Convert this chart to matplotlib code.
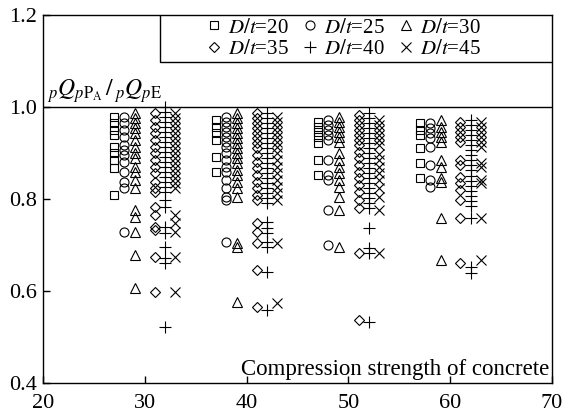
import matplotlib
matplotlib.use('Agg')
import matplotlib.pyplot as plt
from matplotlib.patches import Rectangle

plt.rcParams['font.family'] = ['Liberation Serif', 'DejaVu Serif']
plt.rcParams['mathtext.fontset'] = 'stix'

# concrete strength groups (MPa)
strength = [30, 40, 50, 60]
dt_values = [20, 25, 30, 35, 40, 45]

# pQpPA / pQpE ratios, one list per strength group
ratio_dt20 = [
    [0.978, 0.965, 0.95, 0.939, 0.913, 0.90, 0.885, 0.867, 0.809],
    [0.972, 0.957, 0.943, 0.928, 0.891, 0.859],
    [0.967, 0.957, 0.946, 0.935, 0.922, 0.885, 0.852],
    [0.965, 0.95, 0.939, 0.911, 0.878, 0.846],
]
ratio_dt25 = [
    [0.978, 0.965, 0.95, 0.935, 0.917, 0.906, 0.896, 0.88, 0.859, 0.837, 0.824, 0.728],
    [0.978, 0.967, 0.957, 0.946, 0.935, 0.924, 0.913, 0.90, 0.885, 0.87, 0.859, 0.841,
     0.824, 0.804, 0.798, 0.707],
    [0.972, 0.961, 0.95, 0.939, 0.928, 0.885, 0.852, 0.841, 0.776, 0.70],
    [0.965, 0.954, 0.943, 0.933, 0.913, 0.874, 0.841, 0.826],
]
ratio_dt30 = [
    [0.987, 0.976, 0.965, 0.954, 0.943, 0.928, 0.913, 0.90, 0.889, 0.87, 0.859, 0.841,
     0.824, 0.776, 0.761, 0.728, 0.678, 0.607],
    [0.987, 0.976, 0.965, 0.954, 0.943, 0.933, 0.922, 0.911, 0.90, 0.889, 0.878, 0.863,
     0.852, 0.837, 0.824, 0.804, 0.704, 0.696, 0.576],
    [0.978, 0.967, 0.957, 0.946, 0.935, 0.924, 0.90, 0.885, 0.87, 0.857, 0.841, 0.826,
     0.804, 0.776, 0.696],
    [0.972, 0.957, 0.946, 0.935, 0.924, 0.885, 0.87, 0.846, 0.837, 0.759, 0.667],
]
ratio_dt35 = [
    [0.987, 0.972, 0.957, 0.943, 0.928, 0.913, 0.90, 0.885, 0.87, 0.857, 0.837, 0.824,
     0.815, 0.783, 0.765, 0.739, 0.733, 0.674, 0.598],
    [0.987, 0.976, 0.965, 0.954, 0.943, 0.933, 0.922, 0.911, 0.896, 0.88, 0.867, 0.852,
     0.837, 0.824, 0.809, 0.798, 0.748, 0.728, 0.704, 0.646, 0.565],
    [0.983, 0.972, 0.961, 0.95, 0.939, 0.928, 0.917, 0.902, 0.889, 0.874, 0.859, 0.846,
     0.83, 0.815, 0.798, 0.78, 0.683, 0.537],
    [0.967, 0.957, 0.946, 0.935, 0.924, 0.885, 0.874, 0.848, 0.835, 0.82, 0.798, 0.759, 0.661],
]
ratio_dt40 = [
    [1.0, 0.989, 0.978, 0.967, 0.957, 0.946, 0.935, 0.924, 0.913, 0.902, 0.891, 0.88,
     0.87, 0.859, 0.848, 0.837, 0.826, 0.815, 0.798, 0.783, 0.739, 0.726, 0.696, 0.672,
     0.661, 0.522],
    [0.987, 0.976, 0.965, 0.954, 0.943, 0.933, 0.922, 0.911, 0.90, 0.889, 0.878, 0.867,
     0.857, 0.846, 0.835, 0.824, 0.813, 0.802, 0.791, 0.75, 0.737, 0.726, 0.707, 0.696,
     0.641, 0.559],
    [0.987, 0.976, 0.965, 0.954, 0.943, 0.933, 0.922, 0.911, 0.90, 0.889, 0.878, 0.867,
     0.857, 0.846, 0.835, 0.824, 0.813, 0.802, 0.791, 0.78, 0.737, 0.693, 0.683, 0.533],
    [0.972, 0.961, 0.95, 0.939, 0.928, 0.917, 0.906, 0.895, 0.884, 0.873, 0.862, 0.851,
     0.84, 0.829, 0.818, 0.807, 0.796, 0.785, 0.759, 0.652, 0.639],
]
ratio_dt45 = [
    [0.987, 0.976, 0.965, 0.954, 0.943, 0.933, 0.922, 0.911, 0.90, 0.889, 0.878, 0.867,
     0.857, 0.846, 0.835, 0.824, 0.765, 0.748, 0.728, 0.674, 0.598],
    [0.978, 0.967, 0.957, 0.946, 0.935, 0.924, 0.913, 0.90, 0.885, 0.87, 0.857, 0.841,
     0.826, 0.813, 0.798, 0.704, 0.574],
    [0.972, 0.961, 0.95, 0.939, 0.928, 0.917, 0.898, 0.885, 0.87, 0.857, 0.841, 0.824,
     0.804, 0.776, 0.683],
    [0.967, 0.957, 0.946, 0.935, 0.924, 0.913, 0.878, 0.87, 0.841, 0.835, 0.759, 0.667],
]

series = [ratio_dt20, ratio_dt25, ratio_dt30, ratio_dt35, ratio_dt40, ratio_dt45]
# each D/t is shifted sideways so the columns don't overlap
shift = [-3, -2, -0.95, 1, 2, 3]
markers = ['s', 'o', '^', 'D', '+', 'x']
msizes = [5.5, 6.5, 7.5, 5.5, 8, 7]

fig = plt.figure(figsize=(5.64, 4.17), dpi=100)
ax = fig.add_axes([0.0762, 0.0815, 0.9025, 0.8825])

handles = []
for vals, dx, m, ms, dt in zip(series, shift, markers, msizes, dt_values):
    xs, ys = [], []
    for fc, group in zip(strength, vals):
        xs += [fc + dx] * len(group)
        ys += group
    h, = ax.plot(xs, ys, linestyle='none', marker=m, markersize=ms,
                 markerfacecolor='none', markeredgecolor='black',
                 markeredgewidth=0.8, label=r'$D/t$=%d' % dt)
    handles.append(h)

ax.axhline(1.0, color='black', linewidth=1.0)

ax.set_xlim(20, 70)
ax.set_ylim(0.4, 1.2)
ax.set_xticks([20, 30, 40, 50, 60, 70])
ax.set_yticks([0.4, 0.6, 0.8, 1.0, 1.2])
ax.set_yticklabels(['0.4', '0.6', '0.8', '1.0', '1.2'])
ax.tick_params(direction='in', length=5, width=1, labelsize=16)
ax.tick_params(axis='x', pad=8)
ax.tick_params(axis='y', pad=4)
for s in ax.spines.values():
    s.set_linewidth(1.0)

ax.text(20.4, 1.004, r'${}_{p}Q_{p\mathrm{P}_{\mathrm{A}}}\,/\,{}_{p}Q_{p\mathrm{E}}$',
        fontsize=17, ha='left', va='bottom')
ax.text(69.7, 0.407, 'Compression strength of concrete', fontsize=16.5,
        ha='right', va='bottom')

# legend: row 1 -> 20, 25, 30 ; row 2 -> 35, 40, 45
order = [0, 3, 1, 4, 2, 5]
ax.add_patch(Rectangle((0.23, 0.872), 0.77, 0.128, transform=ax.transAxes,
                       facecolor='white', edgecolor='black', linewidth=1.0, zorder=3))
leg = ax.legend([handles[i] for i in order], [handles[i].get_label() for i in order],
                ncol=3, loc='center', bbox_to_anchor=(0.59, 0.936),
                frameon=False, fontsize=15, handlelength=0.8, handletextpad=0.25,
                columnspacing=0.65, labelspacing=0.1, borderpad=0)
leg.set_zorder(4)

fig.savefig('out.png', dpi=100)
